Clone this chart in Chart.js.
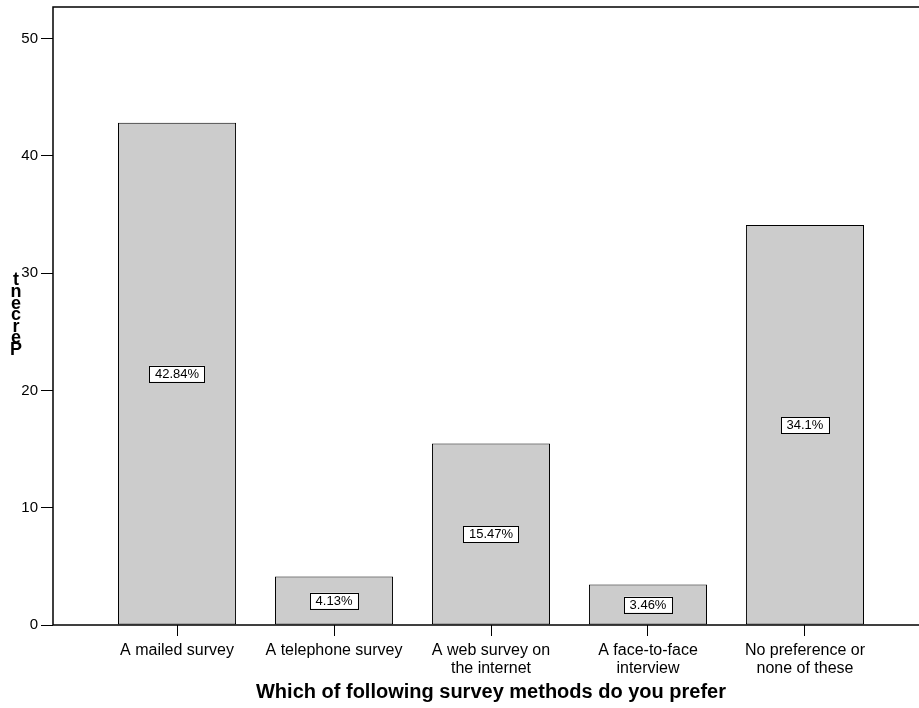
<!DOCTYPE html>
<html>
<head>
<meta charset="utf-8">
<script src="https://cdn.jsdelivr.net/npm/chart.js@4/dist/chart.umd.min.js"></script>
<style>
  html, body { margin: 0; padding: 0; background: #fff; overflow: hidden; }
  #wrap { width: 940px; height: 708px; position: relative; }
</style>
</head>
<body>
<div id="wrap"><canvas id="c"></canvas></div>
<script>
const categories = [
  ["A mailed survey"],
  ["A telephone survey"],
  ["A web survey on", "the internet"],
  ["A face-to-face", "interview"],
  ["No preference or", "none of these"]
];
const percents = [42.84, 4.13, 15.47, 3.46, 34.1];
const yTicks = [0, 10, 20, 30, 40, 50];
const xTitle = "Which of following survey methods do you prefer";
const yTitle = "Percent";

const FONT = "'Liberation Sans', Arial, sans-serif";

const framePlugin = {
  id: 'frame',
  afterDatasetsDraw(chart) {
    const { ctx, chartArea: a } = chart;
    ctx.save();
    ctx.strokeStyle = '#000';
    ctx.lineWidth = 1.5;
    ctx.strokeRect(a.left, a.top, a.right - a.left, a.bottom - a.top);
    ctx.restore();
  }
};

const valueLabelPlugin = {
  id: 'valueLabels',
  afterDatasetsDraw(chart) {
    const { ctx } = chart;
    const meta = chart.getDatasetMeta(0);
    const yScale = chart.scales.y;
    ctx.save();
    ctx.font = "13px " + FONT;
    ctx.textAlign = 'center';
    ctx.textBaseline = 'middle';
    meta.data.forEach((bar, i) => {
      const v = percents[i];
      const txt = String(v) + '%';
      const cy = yScale.getPixelForValue(v / 2);
      const w = ctx.measureText(txt).width + 11;
      const h = 16;
      ctx.fillStyle = '#fff';
      ctx.fillRect(bar.x - w / 2, cy - h / 2, w, h);
      ctx.strokeStyle = '#000';
      ctx.lineWidth = 1;
      ctx.strokeRect(Math.round(bar.x - w / 2) + 0.5, Math.round(cy - h / 2) + 0.5, Math.round(w), h);
      ctx.fillStyle = '#000';
      ctx.fillText(txt, bar.x, cy + 0.5);
    });
    ctx.restore();
  }
};

const yTitlePlugin = {
  id: 'yTitleStack',
  afterDraw(chart) {
    const { ctx } = chart;
    ctx.save();
    ctx.font = "bold 18px " + FONT;
    ctx.textAlign = 'center';
    ctx.textBaseline = 'alphabetic';
    ctx.fillStyle = '#000';
    const chars = yTitle.split('');
    const step = 11.6;
    const baseY = 355;
    const cx = 16;
    chars.forEach((ch, i) => {
      ctx.fillText(ch, cx, baseY - i * step);
    });
    ctx.restore();
  }
};

new Chart(document.getElementById('c'), {
  type: 'bar',
  data: {
    datasets: [{
      data: percents.map((v, i) => ({ x: i, y: v })),
      backgroundColor: '#cccccc',
      borderColor: '#000000',
      borderWidth: 1,
      borderSkipped: false,
      barPercentage: 0.752,
      categoryPercentage: 1.0
    }]
  },
  options: {
    responsive: true,
    maintainAspectRatio: false,
    animation: false,
    layout: { padding: { top: 7, right: 11, left: 0, bottom: 0 } },
    plugins: {
      legend: { display: false },
      tooltip: { enabled: false }
    },
    scales: {
      x: {
        type: 'linear',
        offset: false,
        min: -0.79,
        max: 4.79,
        afterBuildTicks(scale) {
          scale.ticks = categories.map((c, i) => ({ value: i }));
        },
        afterFit(scale) { scale.height = 83; scale.paddingLeft = 0; scale.paddingRight = 0; },
        border: { display: false },
        grid: {
          display: true,
          offset: false,
          drawOnChartArea: false,
          drawTicks: true,
          tickLength: 11,
          color: '#000',
          lineWidth: 1
        },
        ticks: {
          autoSkip: false,
          maxRotation: 0,
          minRotation: 0,
          padding: 5,
          color: '#000',
          font: { family: FONT, size: 16, lineHeight: 1.15 },
          callback(v) { return categories[v] || ''; }
        },
        title: {
          display: true,
          text: xTitle,
          color: '#000',
          font: { family: FONT, size: 20, weight: 'bold', lineHeight: 1.2 },
          padding: { top: 0, bottom: 4 }
        }
      },
      y: {
        min: 0,
        max: 52.7,
        afterBuildTicks(scale) {
          scale.ticks = yTicks.map(v => ({ value: v }));
        },
        afterFit(scale) { scale.width = 53; scale.paddingTop = 0; scale.paddingBottom = 0; },
        border: { display: false },
        grid: {
          display: true,
          drawOnChartArea: false,
          drawTicks: true,
          tickLength: 12,
          color: '#000',
          lineWidth: 1
        },
        ticks: {
          padding: 3,
          color: '#000',
          font: { family: FONT, size: 15 }
        }
      }
    }
  },
  plugins: [framePlugin, valueLabelPlugin, yTitlePlugin]
});
</script>
</body>
</html>
